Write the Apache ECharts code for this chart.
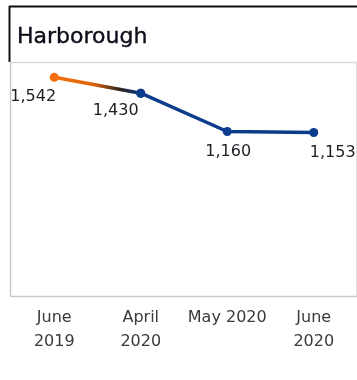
<!DOCTYPE html>
<html>
<head>
<meta charset="utf-8">
<script src="https://cdn.jsdelivr.net/npm/echarts@6/dist/echarts.min.js"></script>
<style>
  html, body { margin: 0; padding: 0; background: #fff; }
  #chart { width: 357px; height: 380px; }
</style>
</head>
<body>
<div id="chart"></div>
<script>
// Monthly values for Harborough
const categories = ['June\n2019', 'April\n2020', 'May 2020', 'June\n2020'];
const values = [1542, 1430, 1160, 1153];
const title = 'Harborough';

// Label placement around each point (dx, dy from the marker centre)
const labelOffsets = [[-21, 20], [-25, 18], [1, 20], [19, 20]];

const ORANGE = '#f5700c';
const BLUE = '#0c3c8c';
const FONT = '"DejaVu Sans", "Noto Sans", sans-serif';

const chart = echarts.init(document.getElementById('chart'), null, { renderer: 'canvas' });

function labelFor(i) {
  return {
    show: true,
    position: 'inside',
    offset: labelOffsets[i],
    align: 'center',
    verticalAlign: 'middle',
    fontFamily: FONT,
    fontSize: 16,
    color: '#1e1e24',
    formatter: p => p.value.toLocaleString('en-US')
  };
}

// First segment fades from orange into blue; the rest is blue
const firstSeg = values.map((v, i) => i <= 1 ? v : '-');
const restSeg = values.map((v, i) => i >= 1 ? v : '-');

chart.setOption({
  animation: false,
  grid: { left: 11, top: 62, width: 348, height: 234 },
  title: {
    text: title,
    left: 12,
    top: 21,
    textStyle: {
      fontFamily: FONT, fontSize: 22, fontWeight: 'normal', color: '#0e0e1a',
      textBorderColor: '#0e0e1a', textBorderWidth: 0.4
    }
  },
  xAxis: {
    type: 'category',
    data: categories,
    boundaryGap: true,
    axisLine: { show: false },
    axisTick: { show: false },
    axisLabel: {
      fontFamily: FONT, fontSize: 16, color: '#3a3a3a', lineHeight: 24, margin: 10,
      interval: 0
    }
  },
  yAxis: {
    type: 'value',
    min: 0,
    max: 1650,
    show: false,
    splitLine: { show: false }
  },
  graphic: [
    // title frame
    { type: 'line', shape: { x1: 9, y1: 6.5, x2: 357, y2: 6.5 }, style: { stroke: '#111', lineWidth: 2 } },
    { type: 'line', shape: { x1: 9.5, y1: 6, x2: 9.5, y2: 62 }, style: { stroke: '#111', lineWidth: 2 } },
    { type: 'line', shape: { x1: 10, y1: 62.5, x2: 357, y2: 62.5 }, style: { stroke: '#dadada', lineWidth: 1.5 } },
    // panel frame
    { type: 'line', shape: { x1: 10.5, y1: 63, x2: 10.5, y2: 296 }, style: { stroke: '#c8c8c8', lineWidth: 1.5 } },
    { type: 'line', shape: { x1: 10, y1: 296.5, x2: 357, y2: 296.5 }, style: { stroke: '#c8c8c8', lineWidth: 1.5 } },
    { type: 'line', shape: { x1: 356.5, y1: 63, x2: 356.5, y2: 296 }, style: { stroke: '#e0e0e0', lineWidth: 1 } }
  ],
  series: [
    {
      type: 'line',
      data: firstSeg.map((v, i) => v === '-' ? v : {
        value: v,
        itemStyle: { color: i === 0 ? ORANGE : BLUE },
        label: labelFor(i)
      }),
      symbol: 'circle',
      symbolSize: 9,
      lineStyle: {
        width: 3.5,
        color: {
          type: 'linear', x: 0, y: 0, x2: 1, y2: 0,
          colorStops: [
            { offset: 0, color: ORANGE },
            { offset: 0.45, color: '#e0640e' },
            { offset: 0.75, color: '#2e2420' },
            { offset: 1, color: BLUE }
          ]
        }
      },
      z: 3
    },
    {
      type: 'line',
      data: restSeg.map((v, i) => v === '-' ? v : {
        value: v,
        itemStyle: { color: BLUE },
        label: i === 1 ? { show: false } : labelFor(i)
      }),
      symbol: 'circle',
      symbolSize: 9,
      lineStyle: { width: 3.5, color: BLUE },
      z: 2
    }
  ]
});
</script>
</body>
</html>
